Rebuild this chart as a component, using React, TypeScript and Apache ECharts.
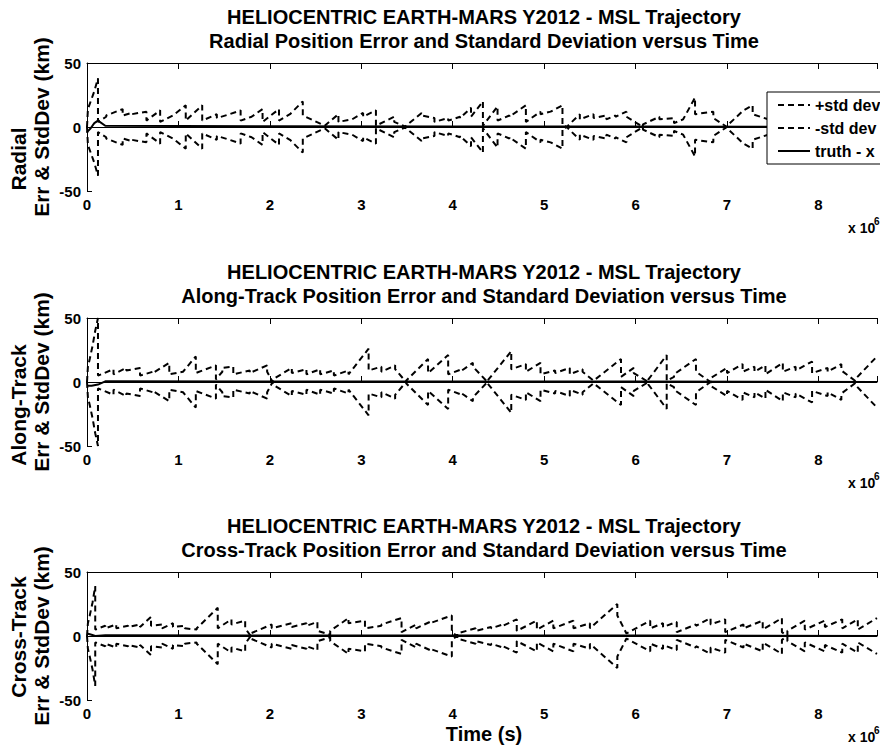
import React, { useEffect, useRef } from 'react';
import * as echarts from 'echarts';

const TITLE_LINE1 = 'HELIOCENTRIC EARTH-MARS Y2012 - MSL Trajectory';
const SUBTITLES = [
  'Radial Position Error and Standard Deviation versus Time',
  'Along-Track Position Error and Standard Deviation versus Time',
  'Cross-Track Position Error and Standard Deviation versus Time',
];
const YLABEL_TOP = ['Radial', 'Along-Track', 'Cross-Track'];
const YLABEL_BOTTOM = 'Err & StdDev (km)';
const X_LABEL = 'Time (s)';
const X_TICKS = [0, 1, 2, 3, 4, 5, 6, 7, 8];
const Y_TICKS = [-50, 0, 50];
const SERIES_NAMES = ['+std dev', '-std dev', 'truth - x'];

// ---- Radial (time in 1e6 s, km) ----
const radialSpikeT = [0, 0.01, 0.04, 0.08, 0.12];
const radialSpikeV = [0, 14, 20, 28, 38];
const radialToothT = [0.12, 0.21, 0.39, 0.49, 0.65, 0.8, 0.94, 1.08, 1.26, 1.42, 1.56, 1.68, 1.8, 1.92, 2.1, 2.22, 2.36, 2.6, 2.75, 2.9, 3.02, 3.16, 3.36, 3.49, 3.66, 3.8, 3.95, 4.08, 4.2, 4.33, 4.49, 4.62, 4.8, 4.96, 5.07, 5.2, 5.26, 5.39, 5.54, 5.68, 5.78, 5.9, 6.08, 6.26, 6.42, 6.52, 6.65, 6.85, 7.0, 7.18, 7.28, 7.45, 7.6, 7.8, 8.0, 8.2, 8.4, 8.64];
const radialToothLow = [4, 9, 9, 10, 5, 4, 9, 5, 5, 7, 10, 5, 8, 4, 5, 10, 9, 1, 4, 6, 8, 1, 4, 1, 9, 4, 5, 7, 8, 1, 5, 8, 4, 10, 12, 1, 1, 6, 7, 6, 8, 8, 2, 6, 3, 6, 10, 7, 1, 13, 10, 5, 6, 6, 5, 6, 5];
const radialToothHigh = [8, 14, 11, 12, 13, 9, 17, 17, 10, 10, 13, 8, 14, 14, 10, 20, 1, 10, 6, 11, 13, 8, 0, 11, 7, 7, 8, 15, 20, 16, 9, 17, 12, 12, 17, 0, 10, 10, 9, 9, 12, 0, 8, 7, 6, 23, 12, 0, 13, 17, 6, 12, 14, 12, 13, 11, 12];
const radialTruthT = [0, 0.04, 0.08, 0.12, 0.2, 2, 4, 6, 8.64];
const radialTruthV = [-4, -1, 3, 5, 1, 0.5, 0.3, 0.3, 0];

// ---- Along-Track ----
const alongSpikeT = [0, 0.01, 0.03, 0.06, 0.09, 0.12];
const alongSpikeV = [0, 12, 18, 28, 40, 50];
const alongToothT = [0.12, 0.29, 0.43, 0.58, 0.72, 0.9, 1.05, 1.19, 1.41, 1.48, 1.6, 1.78, 1.97, 2.03, 2.24, 2.4, 2.55, 2.7, 2.86, 3.08, 3.22, 3.37, 3.49, 3.73, 3.95, 4.1, 4.22, 4.38, 4.64, 4.8, 4.96, 5.12, 5.28, 5.42, 5.54, 5.84, 5.98, 6.14, 6.34, 6.42, 6.66, 6.82, 7.0, 7.17, 7.3, 7.42, 7.61, 7.75, 7.93, 8.1, 8.25, 8.4, 8.64];
const alongToothLow = [5, 6, 9, 5, 7, 6, 8, 7, 2, 11, 6, 7, 8, 2, 7, 6, 6, 5, 6, 9, 8, 10, 1, 7, 6, 9, 12, 1, 10, 8, 6, 7, 6, 8, 1, 4, 7, 2, 1, 6, 8, 3, 7, 8, 8, 6, 8, 9, 7, 8, 9, 2];
const alongToothHigh = [10, 11, 11, 8, 15, 8, 20, 13, 8, 12, 9, 13, 0, 11, 10, 10, 9, 9, 26, 12, 13, 0, 18, 21, 10, 15, 0, 24, 14, 15, 9, 11, 10, 1, 18, 11, 0, 21, 4, 18, 0, 11, 14, 12, 13, 15, 12, 16, 11, 14, 1, 20];
const alongTruthT = [0, 0.05, 0.12, 0.2, 2, 4, 6, 8.64];
const alongTruthV = [-3, -3, -2, 0.5, 0.3, 0.3, 0.3, 0];

// ---- Cross-Track ----
const crossSpikeT = [0, 0.01, 0.03, 0.06, 0.09];
const crossSpikeV = [0, 10, 16, 26, 39];
const crossToothT = [0.09, 0.2, 0.32, 0.45, 0.58, 0.7, 0.82, 0.94, 1.07, 1.2, 1.43, 1.58, 1.73, 1.79, 2.02, 2.24, 2.4, 2.52, 2.66, 2.86, 3.04, 3.22, 3.44, 3.6, 3.75, 3.99, 4.05, 4.25, 4.42, 4.55, 4.7, 4.92, 5.1, 5.32, 5.5, 5.8, 5.9, 6.16, 6.3, 6.45, 6.66, 6.82, 6.98, 7.18, 7.39, 7.6, 7.66, 7.85, 8.07, 8.26, 8.43, 8.64];
const crossToothLow = [5, 6, 6, 7, 7, 8, 6, 7, 6, 6, 6, 9, 6, 2, 6, 7, 8, 4, 4, 10, 6, 9, 3, 6, 10, 3, 2, 4, 6, 8, 4, 5, 6, 6, 6, 16, 2, 6, 7, 3, 8, 9, 3, 6, 5, 3, 4, 5, 7, 6, 5];
const crossToothHigh = [8, 9, 8, 9, 15, 9, 10, 8, 5, 22, 13, 12, 0, 9, 10, 10, 11, 1, 14, 12, 8, 14, 9, 11, 16, 0, 6, 7, 9, 13, 12, 12, 12, 10, 25, 2, 12, 10, 11, 9, 14, 13, 9, 12, 14, 0, 12, 12, 13, 13, 14];
const crossTruthT = [0, 0.05, 0.09, 0.2, 2, 4, 6, 8.64];
const crossTruthV = [2, 1, 0, 0.5, 0.3, 0.3, 0.3, 0];

const X_MAX = 8.64;
const FONT = '"Liberation Sans", Arial, Helvetica, sans-serif';

function buildStd(spT: number[], spV: number[], T: number[], lo: number[], hi: number[]) {
  const pts: number[][] = spT.map((t, i) => [t, spV[i]]);
  for (let i = 0; i < lo.length; i++) {
    pts.push([T[i], lo[i]]);
    pts.push([T[i + 1], hi[i]]);
  }
  return pts;
}

const PANELS = [
  { sp: [radialSpikeT, radialSpikeV], t: radialToothT, lo: radialToothLow, hi: radialToothHigh, tr: [radialTruthT, radialTruthV] },
  { sp: [alongSpikeT, alongSpikeV], t: alongToothT, lo: alongToothLow, hi: alongToothHigh, tr: [alongTruthT, alongTruthV] },
  { sp: [crossSpikeT, crossSpikeV], t: crossToothT, lo: crossToothLow, hi: crossToothHigh, tr: [crossTruthT, crossTruthV] },
];

const GRID_TOPS = [63, 318, 572];
const GRID_H = 128;
const GRID_LEFT = 87;
const GRID_W = 795;
const YLAB1_Y = [159, 405, 637];

export default function App() {
  const ref = useRef<HTMLDivElement>(null);
  useEffect(() => {
    if (!ref.current) return;
    const chart = echarts.init(ref.current, undefined, { renderer: 'svg' });
    const grids: any[] = [];
    const xAxes: any[] = [];
    const yAxes: any[] = [];
    const series: any[] = [];
    const graphics: any[] = [];
    const labelStyle = { color: '#000', fontSize: 15, fontWeight: 'bold', fontFamily: FONT };
    PANELS.forEach((p, i) => {
      grids.push({ left: GRID_LEFT, top: GRID_TOPS[i], width: GRID_W, height: GRID_H, containLabel: false });
      xAxes.push({
        type: 'value', gridIndex: i, min: 0, max: X_MAX, interval: 1, position: 'bottom',
        axisLine: { show: true, lineStyle: { color: '#000', width: 1 } },
        axisTick: { show: true, inside: true, length: 6, lineStyle: { color: '#000' } },
        axisLabel: { ...labelStyle, margin: 6, formatter: (v: number) => (X_TICKS.includes(v) ? String(v) : '') },
        splitLine: { show: false },
      });
      xAxes.push({
        type: 'value', gridIndex: i, min: 0, max: X_MAX, interval: 1, position: 'top',
        axisLine: { show: true, lineStyle: { color: '#000', width: 1 } },
        axisTick: { show: true, inside: true, length: 6, lineStyle: { color: '#000' } },
        axisLabel: { show: false },
        splitLine: { show: false },
      });
      yAxes.push({
        type: 'value', gridIndex: i, min: Y_TICKS[0], max: Y_TICKS[2], interval: 50,
        axisLine: { show: true, lineStyle: { color: '#000', width: 1 } },
        axisTick: { show: true, inside: true, length: 5, lineStyle: { color: '#000' } },
        axisLabel: { ...labelStyle, margin: 6 },
        splitLine: { show: false },
      });
      const upper = buildStd(p.sp[0], p.sp[1], p.t, p.lo, p.hi);
      const lower = upper.map(([t, v]) => [t, -v]);
      const truth = p.tr[0].map((t, k) => [t, p.tr[1][k]]);
      const common = { type: 'line', xAxisIndex: 2 * i, yAxisIndex: i, symbol: 'none', showSymbol: false, silent: true, animation: false, z: 2, itemStyle: { color: '#000' } };
      series.push({ ...common, name: SERIES_NAMES[0], data: upper, lineStyle: { color: '#000', width: 2, type: [6, 4] } });
      series.push({ ...common, name: SERIES_NAMES[1], data: lower, lineStyle: { color: '#000', width: 2, type: [6, 4] } });
      series.push({ ...common, name: SERIES_NAMES[2], data: truth, z: 3, lineStyle: { color: '#000', width: 2, type: 'solid' } });

      const top = GRID_TOPS[i];
      const tfont = { fill: '#000', fontSize: 20, fontWeight: 'bold', fontFamily: FONT, align: 'center', verticalAlign: 'middle' };
      const yfont = { ...tfont, fontSize: 21 };
      graphics.push({ type: 'text', x: 484, y: top - 46, style: { ...tfont, text: TITLE_LINE1 } });
      graphics.push({ type: 'text', x: 484, y: top - 22, style: { ...tfont, text: SUBTITLES[i] } });
      graphics.push({ type: 'text', x: 18, y: YLAB1_Y[i], rotation: Math.PI / 2, style: { ...yfont, text: YLABEL_TOP[i] } });
      graphics.push({ type: 'text', x: 41, y: top + GRID_H / 2, rotation: Math.PI / 2, style: { ...yfont, text: YLABEL_BOTTOM } });
      graphics.push({ type: 'text', x: 848, y: top + 165, style: { fill: '#000', fontSize: 14, fontWeight: 'bold', fontFamily: FONT, align: 'left', verticalAlign: 'middle', text: 'x 10' } });
      graphics.push({ type: 'text', x: 874, y: top + 158, style: { fill: '#000', fontSize: 10, fontWeight: 'bold', fontFamily: FONT, align: 'left', verticalAlign: 'middle', text: '6' } });
    });
    graphics.push({ type: 'text', x: 484, y: 734, style: { fill: '#000', fontSize: 20, fontWeight: 'bold', fontFamily: FONT, align: 'center', verticalAlign: 'middle', text: X_LABEL } });

    chart.setOption({
      animation: false,
      backgroundColor: '#fff',
      grid: grids,
      xAxis: xAxes,
      yAxis: yAxes,
      series,
      graphic: graphics,
      legend: {
        show: true,
        orient: 'vertical',
        left: 767,
        top: 92,
        data: SERIES_NAMES,
        selectedMode: false,
        backgroundColor: '#fff',
        borderColor: '#000',
        borderWidth: 1,
        borderRadius: 0,
        padding: [5, 10, 5, 10],
        itemGap: 7,
        itemWidth: 32,
        itemHeight: 14,
        z: 10,
        itemStyle: { opacity: 0 },
        textStyle: { color: '#000', fontSize: 16, fontWeight: 'bold', fontFamily: FONT },
      },
    });
    return () => chart.dispose();
  }, []);
  return <div ref={ref} style={{ position: 'fixed', left: 0, top: 0, width: 880, height: 745, background: '#fff' }} />;
}
